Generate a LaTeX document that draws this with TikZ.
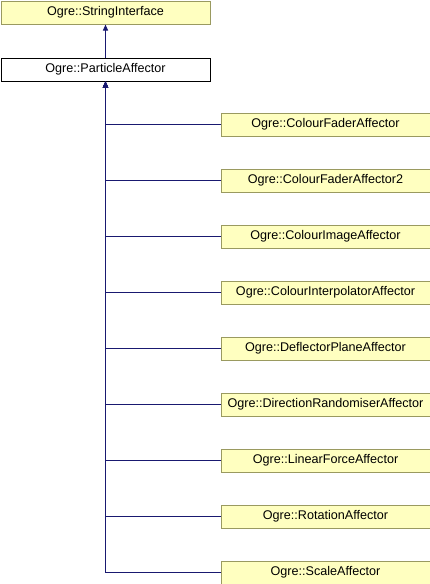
\documentclass[tikz,border=0pt]{standalone}
\usepackage{fontspec}
\setmainfont{Liberation Sans}
\usetikzlibrary{arrows.meta}
\definecolor{boxfill}{HTML}{FFFFC0}
\definecolor{boxline}{HTML}{9A9A60}
\definecolor{edgecol}{HTML}{191970}
\begin{document}
\begin{tikzpicture}[x=1pt,y=-1pt,
  cls/.style={draw=boxline,fill=boxfill,line width=1pt,minimum width=209pt,minimum height=23pt,inner sep=0pt,anchor=north west,font=\fontsize{12.6}{15}\selectfont},
  curcls/.style={cls,draw=black,fill=white},
  inh/.style={draw=edgecol,line width=1pt,-{Triangle[length=6pt,width=5pt]}}]
\useasboundingbox (0,0) rectangle (430,584);
\node[cls] (si) at (0.5,0.5) {Ogre::StringInterface};
\node[curcls] (pa) at (0.5,57.5) {Ogre::ParticleAffector};
\foreach \n/\t [count=\i from 0] in {c1/Ogre::ColourFaderAffector,c2/Ogre::ColourFaderAffector2,c3/Ogre::ColourImageAffector,c4/Ogre::ColourInterpolatorAffector,c5/Ogre::DeflectorPlaneAffector,c6/Ogre::DirectionRandomiserAffector,c7/Ogre::LinearForceAffector,c8/Ogre::RotationAffector,c9/Ogre::ScaleAffector}{
  \node[cls] (\n) at (220.5,112.5+56*\i) {\t};
  \draw[inh] (\n.west) -| (pa.south);
}
\draw[inh] (pa.north) -- (si.south);
\end{tikzpicture}
\end{document}
